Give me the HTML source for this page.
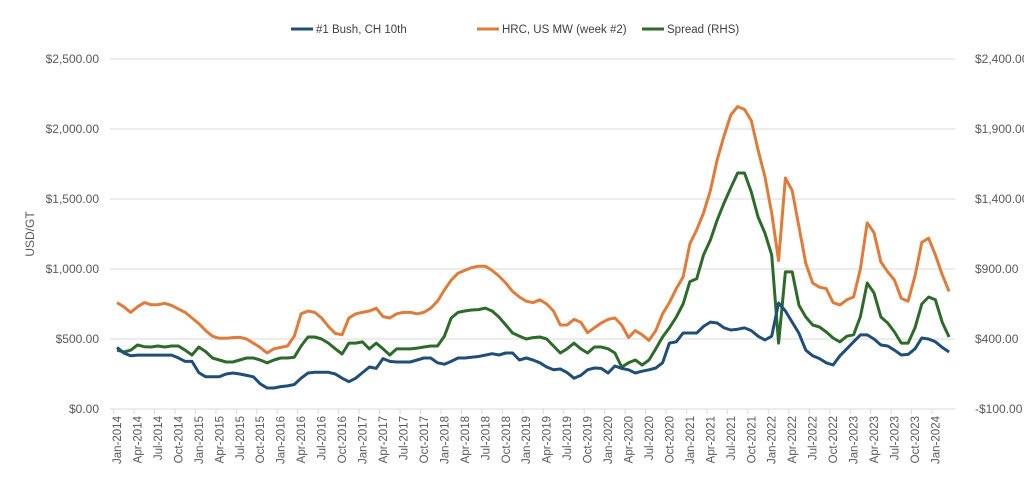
<!DOCTYPE html>
<html><head><meta charset="utf-8"><style>
body{margin:0;background:#fff;}
svg{display:block;font-family:"Liberation Sans",sans-serif;}
</style></head><body>
<svg id="chart" width="1024" height="499">
<g id="grid"></g><g id="yl"></g><g id="yr"></g><g id="xa"></g><g id="series"></g>
<text x="34" y="234" transform="rotate(-90 34 234)" text-anchor="middle" font-size="12" fill="#595959">USD/GT</text>
<g>
<g><line x1="291" y1="29" x2="313" y2="29" stroke="#1f4e79" stroke-width="3"/><text x="316" y="33" font-size="11.5" fill="#404040">#1 Bush, CH 10th</text></g>
<g><line x1="477" y1="29" x2="499" y2="29" stroke="#e07b39" stroke-width="3"/><text x="502" y="33" font-size="11.5" fill="#404040">HRC, US MW (week #2)</text></g>
<g><line x1="642" y1="29" x2="664" y2="29" stroke="#2e6b2a" stroke-width="3"/><text x="667" y="33" font-size="11.5" fill="#404040">Spread (RHS)</text></g>
</g>
</svg>
<script>
const bush=[440,400,380,385,385,385,385,385,385,365,340,340,
260,230,230,230,250,257,250,240,230,180,150,150,
160,165,175,220,257,262,262,262,250,220,195,220,
260,300,290,360,340,336,336,336,350,364,364,330,
320,340,364,364,370,375,385,395,386,400,400,350,
364,350,330,300,280,286,260,220,240,280,293,290,
257,307,290,280,257,270,280,293,330,471,480,543,
543,543,590,621,614,580,564,570,579,560,520,493,
520,757,700,620,540,420,380,360,330,314,380,430,
480,529,529,500,457,450,420,386,390,430,507,500,
480,440,407];
const hrc=[760,730,690,730,760,745,745,755,740,715,690,650,
610,560,520,505,505,510,512,500,470,440,400,430,
440,450,520,680,700,690,650,590,540,530,650,680,
690,700,720,660,650,680,690,690,680,690,720,770,
850,920,970,990,1010,1020,1020,990,950,900,840,800,
770,760,780,750,700,600,600,640,620,545,580,614,
640,650,600,510,560,530,490,560,680,760,860,943,
1180,1280,1400,1560,1780,1950,2100,2160,2140,2060,1850,1660,
1400,1060,1650,1560,1300,1040,900,870,860,760,743,780,
800,1000,1330,1260,1050,980,920,790,770,950,1190,1220,
1100,960,840];
const spread=[321,307,320,357,345,343,350,343,350,350,320,286,
343,310,264,250,236,236,250,264,264,250,229,250,
264,264,270,350,414,414,400,371,330,293,371,371,
379,329,371,330,286,329,329,329,335,343,350,350,
420,550,590,600,607,610,621,600,557,500,443,421,
400,410,414,400,350,300,330,371,330,300,343,343,
330,300,200,230,250,214,250,330,414,480,557,650,
810,830,1000,1107,1250,1371,1480,1586,1586,1450,1271,1157,
1000,371,879,879,640,557,500,486,450,407,379,420,
430,560,800,729,557,514,450,371,371,480,650,700,
680,520,414];
const leftTicks=[0,500,1000,1500,2000,2500];
const rightTicks=[-100,400,900,1400,1900,2400];
const months=["Jan","Apr","Jul","Oct"];
const NS="http://www.w3.org/2000/svg";
const X0=113.6,CW=6.82,Y0=409,Y1=59;
function xs(i){return X0+CW*(i+0.5);}
function yl(v){return Y0-(v/2500)*(Y0-Y1);}
function yr(v){return Y0-((v+100)/2500)*(Y0-Y1);}
function mk(t,a,p){const e=document.createElementNS(NS,t);for(const k in a)e.setAttribute(k,a[k]);p.appendChild(e);return e;}
const grid=document.getElementById('grid'),gl=document.getElementById('yl'),gr=document.getElementById('yr'),xa=document.getElementById('xa'),sg=document.getElementById('series');
const fmt=v=>(v<0?'-$':'$')+Math.abs(v).toLocaleString('en-US',{minimumFractionDigits:2});
leftTicks.forEach((v,i)=>{
 const y=yl(v);
 const l=mk('line',{x1:110,x2:955,y1:y,y2:y,stroke:'#d9d9d9','stroke-width':1},grid);
 
 
 const t=mk('text',{x:99,y:y+4,'text-anchor':'end','font-size':12,fill:'#595959'},gl);
 t.textContent=fmt(v);
 
 
});
rightTicks.forEach(v=>{
 const t=mk('text',{x:975,y:yr(v)+4,'font-size':12,fill:'#595959'},gr);
 t.textContent=fmt(v);
 
 
});
for(let i=0;i<bush.length;i++){
 if(i%3===0){
  const tx=X0+CW*i;
  mk('line',{x1:tx,x2:tx,y1:409,y2:414,stroke:'#d9d9d9'},xa);
  const cx=xs(i)+4;
  const t=mk('text',{x:cx,y:416,'text-anchor':'end','font-size':11.5,fill:'#595959',transform:`rotate(-90 ${cx} 416)`},xa);
  t.textContent=months[(i%12)/3]+'-'+(2014+Math.floor(i/12));
  
  
 }
}
function line(data,yf,col,name){
 const d=data.map((v,i)=>(i?'L':'M')+xs(i).toFixed(1)+' '+yf(v).toFixed(1)).join(' ');
 const p=mk('path',{d:d,fill:'none',stroke:col,'stroke-width':3,'stroke-linejoin':'round'},sg);
 
 
}
line(hrc,yl,'#e07b39','hrc-line');
line(spread,yr,'#2e6b2a','spread-line');
line(bush,yl,'#1f4e79','bush-line');
</script>
</body></html>
